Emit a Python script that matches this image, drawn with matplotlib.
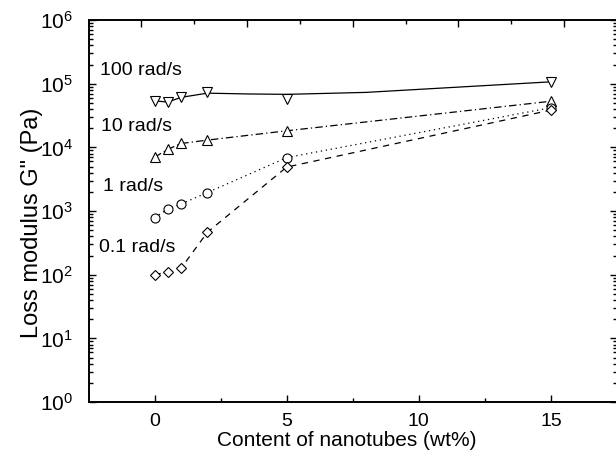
import matplotlib
matplotlib.use('Agg')
import matplotlib.pyplot as plt
import numpy as np
from matplotlib.ticker import LogLocator, NullFormatter, FixedLocator

plt.rcParams['font.family'] = ['Liberation Sans', 'DejaVu Sans']
plt.rcParams['mathtext.default'] = 'regular'

# content of nanotubes (wt%)
content = [0, 0.5, 1, 2, 5, 15]

# loss modulus G'' (Pa) at each frequency
g_100 = [53800, 51400, 61000, 73800, 57300, 107000]
g_10 = [7000, 9300, 11500, 13000, 18200, 53000]
g_1 = [790, 1070, 1290, 1950, 6900, 42000]
g_01 = [99, 112, 126, 465, 4900, 38500]

# smooth guide line drawn through the 100 rad/s data
fit_x = [0, 0.5, 1, 2, 3.5, 5, 8, 15]
fit_100 = [53800, 51400, 61000, 71000, 69000, 68000, 73000, 107000]

labels = ['100 rad/s', '10 rad/s', '1 rad/s', '0.1 rad/s']
label_x = [-2.05, -2.03, -1.95, -2.11]
label_y = [1.64e5, 2.1e4, 2390, 272]

fig = plt.figure(figsize=(6.16, 4.54), dpi=100)
ax = fig.add_axes([0.1437, 0.1145, 0.858, 0.8414])

mk = dict(mfc='white', mec='black', mew=0.8, color='black')
ax.plot(fit_x, fit_100, '-', color='black', lw=0.9)
ax.plot(content, g_100, 'v', ms=7, ls='none', **mk)
ax.plot(content, g_10, marker='^', ms=7, lw=0.9, dashes=(6, 2.5, 1, 2.5), **mk)
ax.plot(content, g_1, marker='o', ms=6.5, lw=0.9, dashes=(1, 3), **mk)
ax.plot(content, g_01, marker='D', ms=5.5, lw=0.9, dashes=(5, 4.5), **mk)

for t, x, y in zip(labels, label_x, label_y):
    ax.text(x, y, t, fontsize=14, ha='left', va='center')

ax.set_yscale('log')
ax.set_xlim(-2.5, 17.5)
ax.set_ylim(1, 1e6)
ax.set_xticks([0, 5, 10, 15])
ax.xaxis.set_minor_locator(FixedLocator([2.5, 7.5, 12.5]))
ax.yaxis.set_major_locator(LogLocator(base=10, numticks=10))
ax.yaxis.set_minor_locator(LogLocator(base=10, subs=np.arange(2, 10), numticks=20))
ax.yaxis.set_minor_formatter(NullFormatter())

ax.tick_params(which='both', direction='in', top=False, right=True,
               width=1, color='black')
ax.tick_params(which='major', length=5, pad=8)
ax.tick_params(which='minor', length=3)
ax.tick_params(axis='x', labelsize=14, pad=8)
ax.tick_params(axis='y', labelsize=15, pad=11)

ax.set_xlabel('Content of nanotubes (wt%)', fontsize=15, labelpad=0)
ax.xaxis.set_label_coords(0.488, -0.077)
ax.set_ylabel('Loss modulus G" (Pa)', fontsize=17)
ax.yaxis.set_label_coords(-0.087, 0.47)

# top axis carries its own tick set
top = ax.twiny()
top.set_xlim(ax.get_xlim())
top.set_xticks([-0.5, 3.5, 7.5, 11.5, 15.5])
top.xaxis.set_minor_locator(FixedLocator([1.5, 5.5, 9.5, 13.5]))
top.tick_params(which='both', direction='in', labeltop=False, width=1)
top.tick_params(which='major', length=5)
top.tick_params(which='minor', length=3)

for a in (ax, top):
    for s in a.spines.values():
        s.set_linewidth(1.2)

fig.savefig('out.png', dpi=100)
